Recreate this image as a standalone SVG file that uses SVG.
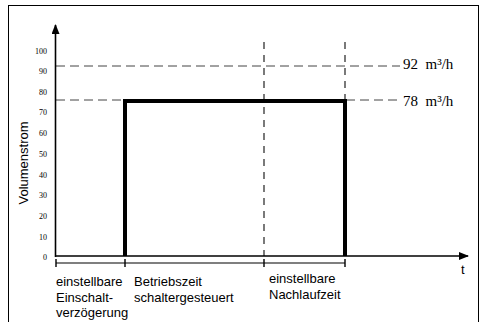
<svg xmlns="http://www.w3.org/2000/svg" width="484" height="322" viewBox="0 0 484 322">
<style>
.ax{stroke:#000;stroke-width:1.6;fill:none}
.dh{stroke:#444;stroke-width:1;stroke-dasharray:9 5;fill:none}
.dv{stroke:#222;stroke-width:1.2;stroke-dasharray:7 6;fill:none}
.tk{font-family:"Liberation Serif",serif;font-size:8px;fill:#000}
.lab{font-family:"Liberation Sans",Arial,sans-serif;font-size:13px;fill:#000}
.val{font-family:"Liberation Serif",serif;font-size:15px;fill:#000}
</style>
<defs>
<marker id="ah" markerWidth="10" markerHeight="8" refX="9" refY="4" orient="auto" markerUnits="userSpaceOnUse">
<path d="M0,0 L10,4 L0,8 Z" fill="#000"/>
</marker>
</defs>
<rect x="8.5" y="5.5" width="470" height="330" fill="#fff" stroke="#000" stroke-width="1"/>
<g id="ticks">
<text class="tk" x="47" y="54" text-anchor="end">100</text>
<text class="tk" x="47" y="74" text-anchor="end">90</text>
<text class="tk" x="47" y="95" text-anchor="end">80</text>
<text class="tk" x="47" y="115" text-anchor="end">70</text>
<text class="tk" x="47" y="136" text-anchor="end">60</text>
<text class="tk" x="47" y="157" text-anchor="end">50</text>
<text class="tk" x="47" y="178" text-anchor="end">40</text>
<text class="tk" x="47" y="198" text-anchor="end">30</text>
<text class="tk" x="47" y="219" text-anchor="end">20</text>
<text class="tk" x="47" y="240" text-anchor="end">10</text>
<text class="tk" x="47" y="260" text-anchor="end">0</text>
</g>
<text class="lab" transform="translate(28,163) rotate(-90)" text-anchor="middle">Volumenstrom</text>
<g id="connectors">
<path class="dh" d="M56,66 H400"/>
<path class="dh" d="M56,100 H124"/>
<path class="dh" d="M346,100 H400"/>
<path class="dv" d="M264,42 V256"/>
<path class="dv" d="M345,42 V99"/>
<path class="ax" d="M55.5,257 V25" marker-end="url(#ah)"/>
<path class="ax" d="M55,256 H468" marker-end="url(#ah)"/>
<path d="M125,256 V101 H345 V256" fill="none" stroke="#000" stroke-width="4"/>
<path d="M56,263 H345" stroke="#000" stroke-width="1.2" fill="none"/>
<path d="M56,259 V267 M125,259 V267 M264,259 V267 M345,259 V267" stroke="#000" stroke-width="1.4" fill="none"/>
</g>
<g id="values">
<text class="val" x="403" y="69" xml:space="preserve">92  m³/h</text>
<text class="val" x="403" y="106" xml:space="preserve">78  m³/h</text>
</g>
<g id="labels">
<text class="lab" x="56" y="286">einstellbare</text>
<text class="lab" x="56" y="302">Einschalt-</text>
<text class="lab" x="56" y="317">verzögerung</text>
<text class="lab" x="134" y="286">Betriebszeit</text>
<text class="lab" x="134" y="302">schaltergesteuert</text>
<text class="lab" x="269" y="283">einstellbare</text>
<text class="lab" x="269" y="299">Nachlaufzeit</text>
<text class="lab" x="461" y="274">t</text>
</g>
</svg>
